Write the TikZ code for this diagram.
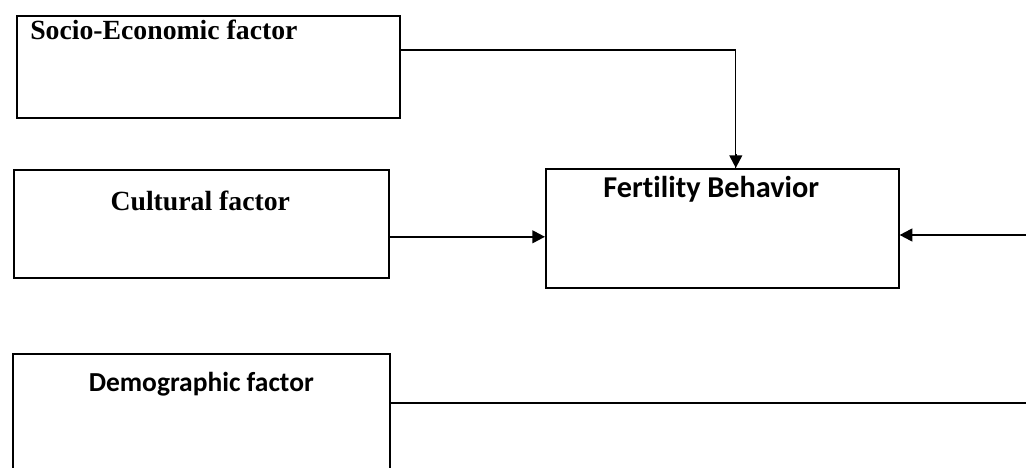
\documentclass[tikz,border=0pt]{standalone}
\usepackage{fontspec}
\setmainfont{Liberation Serif}
\newfontfamily\calibri[Ligatures=NoCommon]{Carlito}
\usetikzlibrary{arrows.meta,positioning,calc}

\tikzset{
  factor/.style={draw, line width=1.2pt, rectangle, inner sep=0pt, anchor=north west},
  serif title/.style={inner sep=0pt, font=\fontsize{20.8}{24}\selectfont\bfseries},
  sans title/.style={inner sep=0pt, font=\calibri\bfseries\fontsize{20.6}{24}\selectfont},
  link/.style={line width=0.9pt},
  arrow/.style={line width=1.6pt, -{Triangle[length=9.5pt,width=9.5pt]}}
}

\begin{document}
\begin{tikzpicture}[x=0.75pt, y=-0.75pt]
	\useasboundingbox (0,0) rectangle (1026,468);
	\clip (0,0) rectangle (1026,468);

	% Boxes
	\node[factor, minimum width=287.25pt, minimum height=76.5pt] (socio) at (16,15) {};
	\node[factor, minimum width=281.25pt, minimum height=81pt] (cult) at (13,169) {};
	\node[factor, minimum width=264.75pt, minimum height=89.25pt] (fert) at (545,168) {};
	\node[factor, minimum width=282.75pt, minimum height=105pt] (demo) at (12,353) {};

	% Titles
	\node[serif title, anchor=base west] (sociotxt) at ([shift={(14,24)}]socio.north west) {Socio-Economic factor};
	\node[serif title, anchor=base] (culttxt) at ([shift={(-1,41)}]cult.north) {Cultural factor};
	\node[sans title, anchor=base, font=\calibri\bfseries\fontsize{22.7}{26}\selectfont] (ferttxt) at ([shift={(-11,29)}]fert.north) {Fertility Behavior};
	\node[sans title, anchor=base] (demotxt) at ([shift={(0,38)}]demo.north) {Demographic factor};

	% Free ends on the right side
	\coordinate (rightin) at (1030,235);
	\coordinate (rightout) at (1030,403);

	% Connectors
	\draw[link] ([shift={(0,35)}]socio.north east) -| ([shift={(13.5,0)}]fert.north) coordinate (fertin);
	\draw[arrow] ([shift={(13.5,-14)}]fert.north) -- (fertin);
	\draw[arrow] ([shift={(0,13)}]cult.east) -- ([shift={(0,8.5)}]fert.west);
	\draw[arrow] (rightin) -- (fert.east |- rightin);
	\draw[link] (demo.east |- rightout) -- (rightout);
\end{tikzpicture}
\end{document}
